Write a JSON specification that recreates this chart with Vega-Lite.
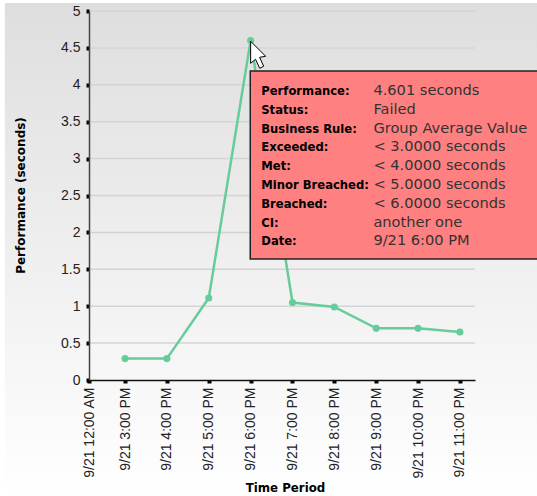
{"$schema":"https://vega.github.io/schema/vega-lite/v6.json","width":386,"height":369,"autosize":"none","padding":{"left":89,"top":11,"right":62,"bottom":116},"background":"white","view":{"stroke":null},"config":{"font":"Liberation Sans"},
"layer":[
{"data":{"values":[{}]},"mark":{"type":"rect","color":{"gradient":"linear","x1":0,"y1":0,"x2":0,"y2":1,"stops":[{"offset":0,"color":"#dedede"},{"offset":1,"color":"#ffffff"}]}},"encoding":{"x":{"datum":12.129,"type":"quantitative","scale":{"domain":[14.139,23.36],"nice":false,"zero":false},"axis":{"values":[14.139,15,16,17,18,19,20,21,22,23],"tickCount":10,"zindex":1,"title":"Time Period","titleFont":"DejaVu Sans","titleFontSize":11.8,"titleFontWeight":"bold","titleColor":"#000","titleY":102,"titleX":196,"labelExpr":"'9/21 ' + (datum.value<15 ? '12:00 AM' : (datum.value-12)+':00 PM')","labelAngle":270,"labelAlign":"right","labelBaseline":"middle","labelFontSize":14,"labelColor":"#222","labelPadding":4,"labelOverlap":false,"labelBound":false,"labelFlush":false,"grid":false,"domainColor":"#111","domainWidth":1.5,"tickColor":"#000","tickSize":3,"tickWidth":4}},"x2":{"datum":24.843},"y":{"datum":5.108,"type":"quantitative","scale":{"domain":[0,5],"nice":false},"axis":{"values":[0,0.5,1,1.5,2,2.5,3,3.5,4,4.5,5],"tickCount":11,"format":"~g","zindex":1,"title":"Performance (seconds)","titleFont":"DejaVu Sans","titleFontSize":12,"titleFontWeight":"bold","titleColor":"#000","titleX":-62,"titleY":184,"labelFontSize":14,"labelColor":"#222","labelPadding":6,"labelOverlap":false,"labelBound":false,"labelFlush":false,"grid":false,"domainColor":"#444","domainWidth":1.5,"tickColor":"#000","tickSize":3,"tickWidth":4}},"y2":{"datum":-1.572}}},
{"data":{"values":[{"g":0.5},{"g":1},{"g":1.5},{"g":2},{"g":2.5},{"g":3},{"g":3.5},{"g":4},{"g":4.5},{"g":5}]},"mark":{"type":"rule","color":"#d4d4d4","strokeWidth":1.5},"encoding":{"y":{"field":"g","type":"quantitative"}}},
{"data":{"values":[{"hour":15,"seconds":0.29},{"hour":16,"seconds":0.29},{"hour":17,"seconds":1.11},{"hour":18,"seconds":4.601},{"hour":19,"seconds":1.05},{"hour":20,"seconds":0.99},{"hour":21,"seconds":0.7},{"hour":22,"seconds":0.7},{"hour":23,"seconds":0.65}]},"mark":{"type":"line","color":"#66cc99","strokeWidth":2.5,"point":{"color":"#66cc99","size":50,"filled":true,"opacity":1}},"encoding":{"x":{"field":"hour","type":"quantitative"},"y":{"field":"seconds","type":"quantitative"}}},
{"data":{"values":[{}]},"mark":{"type":"rect","fill":"#ff8080","stroke":"#222222","strokeWidth":1.5,"clip":false},"encoding":{"x":{"datum":17.991,"type":"quantitative"},"x2":{"datum":24.9},"y":{"datum":4.187,"type":"quantitative"},"y2":{"datum":1.64}}},
{"data":{"values":[{}]},"mark":{"type":"text","align":"left","baseline":"alphabetic","font":"DejaVu Sans","fontWeight":"bold","fontSize":11.6,"lineHeight":18.8,"color":"#000","text":["Performance:","Status:","Business Rule:","Exceeded:","Met:","Minor Breached:","Breached:","CI:","Date:"]},"encoding":{"x":{"datum":18.254,"type":"quantitative"},"y":{"datum":3.862,"type":"quantitative"}}},
{"data":{"values":[{}]},"mark":{"type":"text","align":"left","baseline":"alphabetic","font":"DejaVu Sans","fontSize":14.6,"lineHeight":18.8,"color":"#333","text":["4.601 seconds","Failed","Group Average Value","< 3.0000 seconds","< 4.0000 seconds","< 5.0000 seconds","< 6.0000 seconds","another one","9/21 6:00 PM"]},"encoding":{"x":{"datum":20.933,"type":"quantitative"},"y":{"datum":3.862,"type":"quantitative"}}},
{"data":{"values":[{}]},"mark":{"type":"point","filled":true,"fill":"#ffffff","stroke":"#000000","strokeWidth":1,"opacity":1,"size":900,"shape":"M0,0 L0,1.47 L.33,1.2 L.6,1.8 L.87,1.67 L.6,1.07 L1,1 Z"},"encoding":{"x":{"datum":18,"type":"quantitative"},"y":{"datum":4.59,"type":"quantitative"}}}
]}
